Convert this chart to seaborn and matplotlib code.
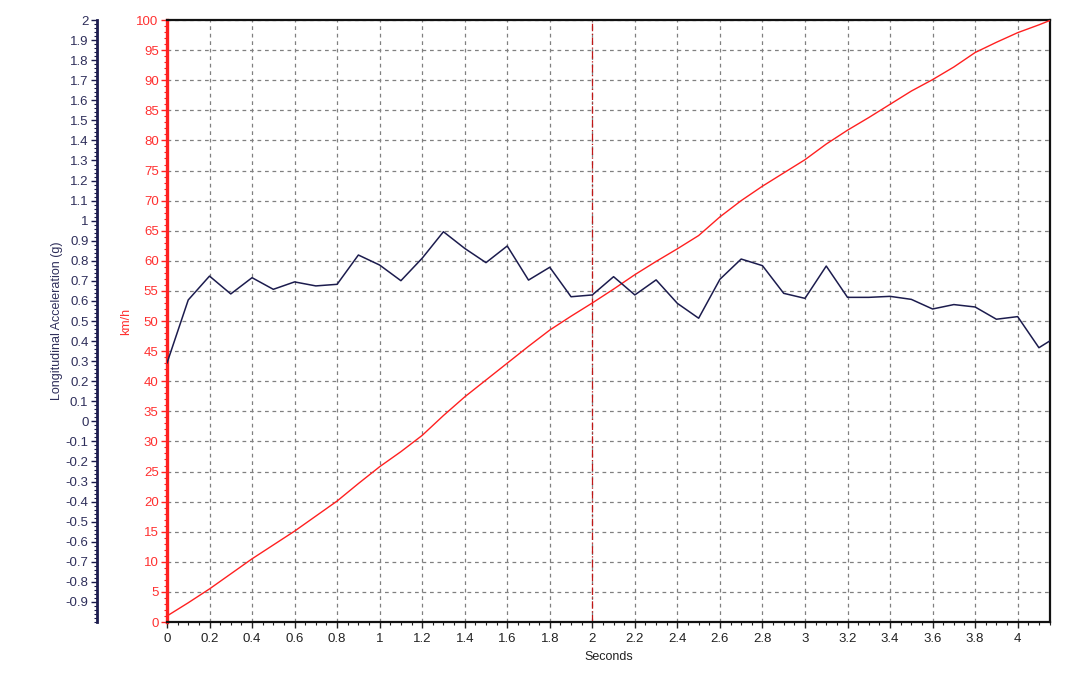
import numpy as np
import pandas as pd
import matplotlib
matplotlib.use("Agg")
import matplotlib.pyplot as plt
import seaborn as sns
from matplotlib.ticker import MultipleLocator, FuncFormatter, FixedLocator

# ---- data ----
time_s = [round(0.1 * i, 1) for i in range(43)]  # 0.0 .. 4.2
accel_g = [0.29, 0.605, 0.724, 0.635, 0.716, 0.658, 0.695, 0.675, 0.683, 0.829,
           0.779, 0.701, 0.813, 0.945, 0.862, 0.791, 0.874, 0.704, 0.768, 0.621,
           0.630, 0.721, 0.630, 0.705, 0.588, 0.514, 0.708, 0.809, 0.776, 0.638,
           0.613, 0.774, 0.618, 0.618, 0.623, 0.608, 0.560, 0.582, 0.570, 0.509,
           0.522, 0.367, 0.433]
speed_kmh = [1.0, 3.2, 5.5, 8.0, 10.5, 12.8, 15.1, 17.6, 20.1, 23.0,
             25.8, 28.3, 31.0, 34.3, 37.4, 40.2, 43.0, 45.8, 48.5, 50.8,
             53.0, 55.3, 57.7, 59.9, 62.0, 64.2, 67.3, 70.0, 72.4, 74.6,
             76.8, 79.4, 81.7, 83.8, 86.0, 88.2, 90.1, 92.2, 94.6, 96.3,
             97.9, 99.2, 100.6]
marker_time = 2.0
x_ticks = [0, 0.2, 0.4, 0.6, 0.8, 1, 1.2, 1.4, 1.6, 1.8, 2, 2.2, 2.4, 2.6, 2.8,
           3, 3.2, 3.4, 3.6, 3.8, 4]
speed_ticks = list(range(0, 101, 5))
accel_ticks = [round(-0.9 + 0.1 * i, 1) for i in range(30)]  # -0.9 .. 2.0

df = pd.DataFrame({"t": time_s, "accel": accel_g, "speed": speed_kmh})

sns.set_style("white")
plt.rcParams["font.family"] = ["Liberation Sans", "DejaVu Sans"]

NAVY = "#1c1c4e"
NAVY_TXT = "#2e2e5a"
RED = "#ff2020"
RED_TXT = "#ff3030"

fig = plt.figure(figsize=(10.8, 6.79), dpi=100)
ax = fig.add_axes([0.1546, 0.0839, 0.8176, 0.8866])
ax2 = ax.twinx()

sns.lineplot(data=df, x="t", y="speed", ax=ax, color=RED, linewidth=1.0, zorder=3)
sns.lineplot(data=df, x="t", y="accel", ax=ax2, color=NAVY, linewidth=1.1, zorder=3)
ax.axvline(marker_time, color="#c01818", linestyle=(0, (6, 2, 1, 2)), linewidth=0.9, zorder=2)

fmt = FuncFormatter(lambda v, p: "%g" % round(v, 2))

# main axis (km/h)
ax.set_xlim(0, 4.152)
ax.set_ylim(0, 100)
ax.xaxis.set_major_locator(FixedLocator(x_ticks))
ax.xaxis.set_minor_locator(MultipleLocator(0.05))
ax.xaxis.set_major_formatter(fmt)
ax.yaxis.set_major_locator(FixedLocator(speed_ticks))
ax.yaxis.set_minor_locator(MultipleLocator(1))
ax.yaxis.set_major_formatter(fmt)
ax.grid(True, which="major", color="#808080", linestyle=(0, (3, 3)), linewidth=0.9)
ax.set_axisbelow(True)
ax.tick_params(axis="x", which="major", direction="out", length=4, width=1,
               labelsize=9.5, colors="#222222", pad=4, bottom=True)
ax.tick_params(axis="x", which="minor", direction="out", length=2, width=0.8, colors="#222222", bottom=True)
ax.tick_params(axis="y", which="major", direction="out", length=4, width=1,
               labelsize=9.5, colors=RED, labelcolor=RED_TXT, pad=2, left=True)
ax.tick_params(axis="y", which="minor", direction="out", length=2, width=0.8, colors=RED, left=True)
ax.set_xlabel("Seconds", fontsize=9, color="#222222", labelpad=4)
ax.set_ylabel("km/h", fontsize=9, color=RED_TXT, labelpad=3)
for side in ["top", "right", "bottom"]:
    ax.spines[side].set_color("#111111")
    ax.spines[side].set_linewidth(1.6)
ax.spines["left"].set_color(RED)
ax.spines["left"].set_linewidth(2.4)

# acceleration axis (outer left)
ax2.set_ylim(-1, 2)
ax2.yaxis.set_label_position("left")
ax2.yaxis.set_ticks_position("left")
ax2.spines["left"].set_position(("axes", -0.0795))
ax2.spines["left"].set_visible(True)
ax2.spines["left"].set_color(NAVY)
ax2.spines["left"].set_linewidth(2.0)
for side in ["top", "right", "bottom"]:
    ax2.spines[side].set_visible(False)
ax2.yaxis.set_major_locator(FixedLocator(accel_ticks))
ax2.yaxis.set_minor_locator(MultipleLocator(0.02))
ax2.yaxis.set_major_formatter(fmt)
ax2.tick_params(axis="y", which="major", direction="out", length=4, width=1,
                labelsize=9.5, colors=NAVY, labelcolor=NAVY_TXT, pad=2)
ax2.tick_params(axis="y", which="minor", direction="out", length=2, width=0.8, colors=NAVY)
ax2.set_ylabel("Longitudinal Acceleration (g)", fontsize=9, color=NAVY_TXT, labelpad=2)
ax2.grid(False)

fig.savefig("out.png", dpi=100)
